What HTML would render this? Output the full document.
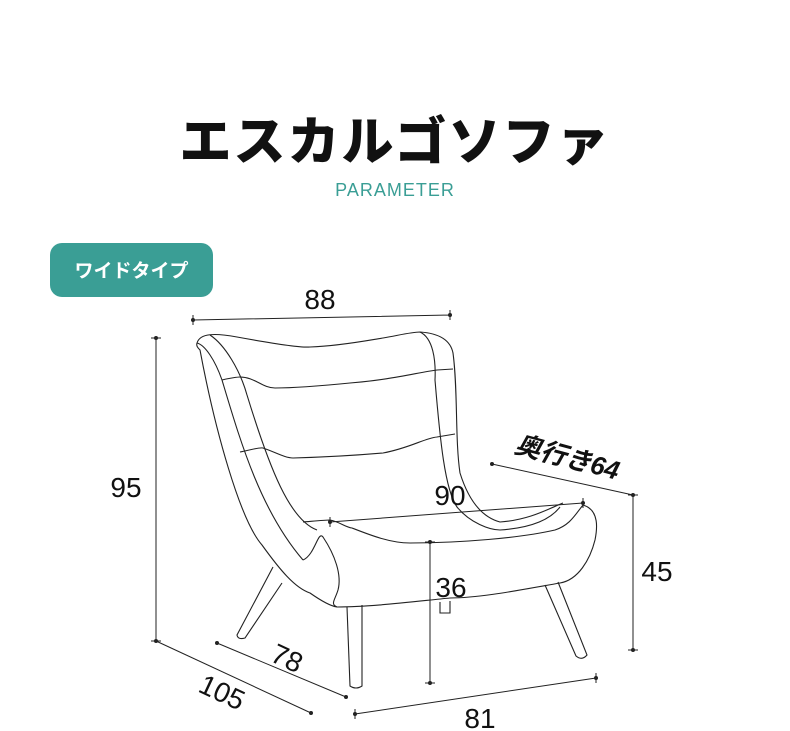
<!DOCTYPE html>
<html><head><meta charset="utf-8"><style>
html,body{margin:0;padding:0;background:#fff;}
body{width:790px;height:731px;position:relative;overflow:hidden;font-family:"Liberation Sans","Noto Sans CJK JP",sans-serif;}
.t{position:absolute;left:0;width:790px;text-align:center;}
</style></head><body>
<div class="t" style="top:100px;font-size:52px;font-weight:900;color:#111;letter-spacing:2px;font-family:'Noto Sans CJK JP',sans-serif;">エスカルゴソファ</div>
<div class="t" style="top:180px;font-size:18px;color:#3a9e95;letter-spacing:1px;font-weight:500;">PARAMETER</div>
<div style="position:absolute;left:50px;top:243px;width:163px;height:54px;background:#3a9e95;border-radius:12px;color:#fff;font-weight:bold;font-size:19px;line-height:54px;text-align:center;font-family:'Noto Sans CJK JP',sans-serif;">ワイドタイプ</div>
<svg width="790" height="731" style="position:absolute;left:0;top:0" fill="none" stroke="#222" stroke-width="1.1">
<path d="M197,343 C200,333 215,333 237,337 C270,343 300,348 310,347 C340,346 370,340 383,338 C400,335 412,332 420,332 C435,333 450,338 453,353 C458,390 455,440 460,473 C470,505 485,518 500,522 C530,520 550,508 563,503"/>
<path d="M197,343 C205,345 215,360 222,380 C240,440 260,510 303,560"/>
<path d="M197,343 C196,346 198,348 200,350 C215,430 240,520 262,545 C280,570 295,588 310,593 C320,600 330,606 337,607"/>
<path d="M210,335 C225,345 240,370 247,395 C270,470 290,520 317,530"/>
<path d="M303,560 C315,555 318,530 323,537 C335,555 342,575 338,590 C335,600 330,604 337,607"/>
<path d="M420,332 C433,338 436,360 435,380 C440,440 445,490 457,507 C470,523 490,530 500,530 C530,528 550,520 560,507"/>
<path d="M222,380 C230,378 238,377 240,377 C255,377 262,388 275,388 C300,388 330,385 350,383 C390,380 420,372 437,370 L453,369"/>
<path d="M240,452 C250,450 260,447 263,448 C275,452 285,458 293,458 C330,457 360,455 383,453 C410,448 425,438 437,437 L455,434"/>
<path d="M303,522 C315,521 325,520 330,520 C340,522 345,527 352,528 C370,535 390,543 410,543 C460,543 520,538 555,530 C570,525 575,515 583,505"/>
<path d="M583,505 C600,510 597,530 595,540 C590,560 578,580 560,583 C520,590 480,598 450,598 C410,602 370,607 337,607"/>
<path d="M273,567 L237,635 Q238,640 245,638 L282,583"/>
<path d="M347,607 L350,686 Q356,690 362,686 L362,605"/>
<path d="M545,585 L576,656 Q582,661 587,655 L558,582"/>
<path d="M440,602 L440,613 L450,613 L450,601"/>
<g stroke-width="1">
<path d="M193,320 L450,315 M193,315 V325 M450,310 V320"/>
<path d="M156,338 V641 M151,338 H161 M151,641 H161"/>
<path d="M156,641 L311,713"/>
<path d="M217,643 L346,697"/>
<path d="M355,714 L596,678 M355,709 V719 M596,673 V683"/>
<path d="M633,495 V650 M628,495 H638 M628,650 H638"/>
<path d="M430,542 V683 M425,542 H435 M425,683 H435"/>
<path d="M330,522 L583,503 M330,517 V527 M583,498 V508"/>
<path d="M492,464 L633,495"/>
</g>
<g fill="#222" stroke="none">
<circle cx="193" cy="320" r="2"/><circle cx="450" cy="315" r="2"/><circle cx="156" cy="338" r="2"/><circle cx="156" cy="641" r="2"/><circle cx="311" cy="713" r="2"/><circle cx="217" cy="643" r="2"/><circle cx="346" cy="697" r="2"/><circle cx="355" cy="714" r="2"/><circle cx="596" cy="678" r="2"/><circle cx="633" cy="495" r="2"/><circle cx="633" cy="650" r="2"/><circle cx="430" cy="542" r="2"/><circle cx="430" cy="683" r="2"/><circle cx="330" cy="522" r="2"/><circle cx="583" cy="503" r="2"/><circle cx="492" cy="464" r="2"/>
</g>
<g fill="#111" stroke="none" font-family="Liberation Sans, sans-serif" font-size="28">
<text x="320" y="309" text-anchor="middle">88</text>
<text x="126" y="497" text-anchor="middle">95</text>
<text x="480" y="728" text-anchor="middle">81</text>
<text x="657" y="581" text-anchor="middle">45</text>
<text x="451" y="597" text-anchor="middle">36</text>
<text x="450" y="505" text-anchor="middle">90</text>
<text transform="translate(283,667) rotate(25)" text-anchor="middle">78</text>
<text transform="translate(218,701) rotate(25)" text-anchor="middle">105</text>
<text transform="translate(565,466) rotate(15)" text-anchor="middle" font-weight="bold" font-style="italic" font-family="Liberation Sans, Noto Sans CJK JP, sans-serif" font-size="26">奥行き64</text>
</g>
</svg>
</body></html>
